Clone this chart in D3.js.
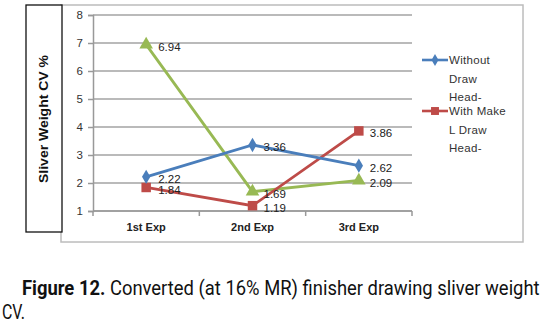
<!DOCTYPE html>
<html><head><meta charset="utf-8">
<script src="https://cdn.jsdelivr.net/npm/d3@7/dist/d3.min.js"></script>
<style>body{margin:0;background:#fff}svg{display:block}</style>
</head><body>
<svg id="c" width="553" height="330"></svg>
<script>
const categories = ["1st Exp", "2nd Exp", "3rd Exp"];
const withoutDrawHead = [2.22, 3.36, 2.62];
const withMakeLDrawHead = [1.84, 1.19, 3.86];
const thirdSeries = [6.94, 1.69, 2.09];
const yTicks = [1, 2, 3, 4, 5, 6, 7, 8];
const seriesNames = ["Without Draw Head-", "With Make L Draw Head-", ""];

const svg = d3.select("#c");
svg.append("rect").attr("width", 553).attr("height", 330).attr("fill", "#fff");

// outer chart border
svg.append("rect").attr("x", 61).attr("y", 5).attr("width", 462).attr("height", 237)
  .attr("fill", "none").attr("stroke", "#bcbcbc").attr("stroke-width", 1.5);

// y title box
svg.append("rect").attr("x", 26).attr("y", 5).attr("width", 36).attr("height", 227)
  .attr("fill", "#fff").attr("stroke", "#111").attr("stroke-width", 1.3);
svg.append("text").attr("transform", "translate(48,119) rotate(-90)")
  .attr("text-anchor", "middle").attr("font-family", "Liberation Sans, Arial, sans-serif")
  .attr("font-size", 12.5).attr("font-weight", "bold").attr("fill", "#111")
  .attr("textLength", 128).attr("lengthAdjust", "spacingAndGlyphs")
  .text("Sliver Weight CV %");

const x = d3.scaleBand().domain(categories).range([93, 412]);
const y = d3.scaleLinear().domain([1, 8]).range([211, 15]);

// gridlines
svg.append("g").selectAll("line").data(yTicks).join("line")
  .attr("x1", 93).attr("x2", 412).attr("y1", d => y(d)).attr("y2", d => y(d))
  .attr("stroke", "#a3a3a3").attr("stroke-width", 1.6);

// y axis
const yAxis = svg.append("g").attr("transform", "translate(93,0)")
  .call(d3.axisLeft(y).tickValues(yTicks).tickSize(5).tickFormat(d3.format("d")));
yAxis.select(".domain").attr("stroke", "#999").attr("stroke-width", 1.5);
yAxis.selectAll(".tick line").attr("stroke", "#999").attr("stroke-width", 1.5);
yAxis.selectAll("text").attr("font-family", "Liberation Sans, Arial, sans-serif")
  .attr("font-size", 11.5).attr("fill", "#333").attr("x", -10);

// x axis
const xAxis = svg.append("g").attr("transform", "translate(0,211)")
  .call(d3.axisBottom(x).tickSize(0).tickPadding(12));
xAxis.select(".domain").remove();
xAxis.selectAll("text").attr("font-family", "Liberation Sans, Arial, sans-serif")
  .attr("font-size", 11).attr("font-weight", "bold").attr("fill", "#222");
const bounds = [x.range()[0]].concat(categories.map(c => x(c) + x.bandwidth()));
svg.append("g").selectAll("line").data(bounds).join("line")
  .attr("x1", d => d).attr("x2", d => d).attr("y1", 211).attr("y2", 216)
  .attr("stroke", "#999").attr("stroke-width", 1.5);
svg.append("line").attr("x1", 93).attr("x2", 412).attr("y1", 211).attr("y2", 211)
  .attr("stroke", "#999").attr("stroke-width", 1.6);

const cx = c => x(c) + x.bandwidth() / 2;
const series = [
  {name: seriesNames[0], vals: withoutDrawHead, color: "#4a7ebb", sym: d3.symbolDiamond, size: 60},
  {name: seriesNames[1], vals: withMakeLDrawHead, color: "#be4b48", sym: d3.symbolSquare, size: 90},
  {name: seriesNames[2], vals: thirdSeries, color: "#98b954", sym: d3.symbolTriangle, size: 80}
];
const line = d3.line().x((d, i) => cx(categories[i])).y(d => y(d));

series.slice().reverse().forEach(s => {
  svg.append("path").datum(s.vals).attr("d", line)
    .attr("fill", "none").attr("stroke", s.color).attr("stroke-width", 2.8);
  svg.append("g").selectAll("path").data(s.vals).join("path")
    .attr("d", d3.symbol().type(s.sym).size(s.size))
    .attr("transform", (d, i) => `translate(${cx(categories[i])},${y(d)})`)
    .attr("fill", s.color);
});

// data labels
series.forEach(s => {
  svg.append("g").selectAll("text").data(s.vals).join("text")
    .attr("x", (d, i) => cx(categories[i]) + (i === 0 ? 12 : 11))
    .attr("y", d => y(d) + 2)
    .attr("dy", "0.35em")
    .attr("font-family", "Liberation Sans, Arial, sans-serif")
    .attr("font-size", 11.5).attr("fill", "#222")
    .text(d => d.toFixed(2));
});

// legend
const legend = [
  {s: series[0], lines: ["Without", "Draw", "Head-"], y0: 60},
  {s: series[1], lines: ["With Make", "L Draw", "Head-"], y0: 111}
];
legend.forEach(L => {
  const g = svg.append("g");
  g.append("line").attr("x1", 422).attr("x2", 448).attr("y1", L.y0).attr("y2", L.y0)
    .attr("stroke", L.s.color).attr("stroke-width", 2.6);
  g.append("path").attr("d", d3.symbol().type(L.s.sym).size(L.s.size * 0.7))
    .attr("transform", `translate(435,${L.y0})`).attr("fill", L.s.color);
  g.selectAll("text").data(L.lines).join("text")
    .attr("x", 449).attr("y", (d, i) => L.y0 + i * 18.5).attr("dy", "0.35em")
    .attr("font-family", "Liberation Sans, Arial, sans-serif")
    .attr("font-size", 11.5).attr("fill", "#333").attr("letter-spacing", 0.3).text(d => d);
});

// caption (horizontally condensed via scale to match the justified line)
function fitText(t, x0, y0, width) {
  const w = t.node().getComputedTextLength();
  t.attr("transform", `translate(${x0},${y0}) scale(${width / w},1)`);
}
const cap = svg.append("text").attr("x", 0).attr("y", 0)
  .attr("font-family", "Roboto, Liberation Sans, sans-serif").attr("font-size", 19.5).attr("fill", "#111");
cap.append("tspan").attr("font-weight", "bold").text("Figure 12.");
cap.append("tspan").text(" Converted (at 16% MR) finisher drawing sliver weight");
fitText(cap, 22, 295, 518);
const cap2 = svg.append("text").attr("x", 0).attr("y", 0)
  .attr("font-family", "Roboto, Liberation Sans, sans-serif").attr("font-size", 19.5).attr("fill", "#111")
  .text("CV.");
fitText(cap2, 2, 319, 23);
</script>
</body></html>
